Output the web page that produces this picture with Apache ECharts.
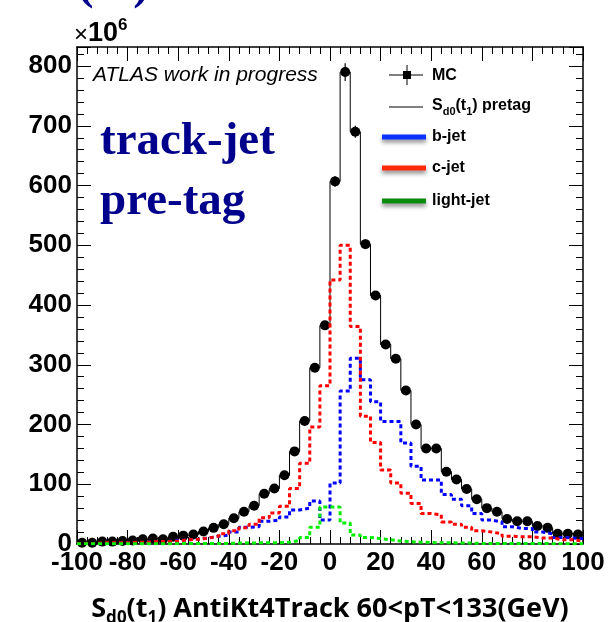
<!DOCTYPE html>
<html><head><meta charset="utf-8">
<script src="https://cdn.jsdelivr.net/npm/echarts@6/dist/echarts.min.js"></script>
<style>html,body{margin:0;padding:0;background:#fff}#c{width:610px;height:622px}</style>
</head><body><div id="c"></div>
<script>
// ---- data ----
const binCenters = [-98,-94,-90,-86,-82,-78,-74,-70,-66,-62,-58,-54,-50,-46,-42,-38,-34,-30,-26,-22,-18,-14,-10,-6,-2,
                    2,6,10,14,18,22,26,30,34,38,42,46,50,54,58,62,66,70,74,78,82,86,90,94,98];
const binWidth = 4;
const mcValues = [2,2,4,4,5,6,8,9,8,12,14,16,21,27,33,43,54,64,84,93,115,155,206,295,366,
                  607,790,690,502,416,334,310,257,200,160,160,121,108,92,75,60,54,42,38,38,30,27,17,17,16];
const mcErrors = [1,1,1,1,1,1,1,1,1,1,1,1,1.5,1.5,2,2,2,2,3,3,3,4,5,6,7,
                  9,15,10,8,7,6,6,5,5,4,4,3,3,3,3,2,2,2,2,2,2,2,1.5,1.5,1.5];
const bJet = [1,1,1,2,2,2,3,4,4,6,7,8,10,13,15,20,28,29,38,40,45,57,60,72,40,
              102,256,311,275,238,205,205,169,130,107,107,83,75,64,51,40,37,29,26,26,20,17,11,10,9];
const cJet = [1,1,2,2,2,3,3,4,4,5,7,8,10,13,17,22,27,33,44,52,63,93,135,196,265,
              442,500,364,214,170,124,102,85,68,51,49,37,33,28,22,20,17,13,12,12,10,10,7,7,5];
const lightJet = [0.5,0.5,0.5,0.5,0.5,0.5,0.5,0.5,0.5,0.5,1,1,1,1,1,1.5,1.5,2,2,2,3,6,11,28,62,
                  62,35,15,11,9,7,5,4,3,2.5,2,2,1.5,1.5,1,1,1,1,1,1,1,0.5,0.5,0.5,0.5];
const xRange = [-100, 100];
const yRange = [0, 832];
const legendLabels = ['MC', 'pretag', 'b-jet', 'c-jet', 'light-jet'];

function stepData(vals) {
  const d = binCenters.map((c, i) => [c - binWidth / 2, vals[i]]);
  d.push([binCenters[binCenters.length - 1] + binWidth / 2, vals[vals.length - 1]]);
  return d;
}

const F = '"Liberation Sans", Arial, sans-serif';
const chart = echarts.init(document.getElementById('c'), null, {renderer: 'canvas'});

const tickCommon = {
  axisLine: {show: true, onZero: false, lineStyle: {color: '#000', width: 1.5}},
  axisTick: {show: true, inside: true, length: 14, lineStyle: {color: '#000', width: 1}},
  minorTick: {show: true, splitNumber: 5, length: 7, lineStyle: {color: '#000', width: 1}},
  splitLine: {show: false}
};

const dashed = (color) => ({color: color, width: 3, type: [4, 3], opacity: 1});

chart.setOption({
  animation: false,
  backgroundColor: '#fff',
  grid: {left: 77, right: 27, top: 47, bottom: 78, containLabel: false, outerBoundsMode: 'none'},
  xAxis: [
    Object.assign({
      type: 'value', min: xRange[0], max: xRange[1], interval: 20, position: 'bottom',
      axisLabel: {show: true, color: '#000', fontFamily: F, fontWeight: 'bold', fontSize: 26, margin: 6},
      name: '{m|S}{s|d0}{m|(t}{s|1}{m|) AntiKt4Track 60<pT<133(GeV)}',
      nameLocation: 'middle', nameGap: 47,
      nameTextStyle: {
        rich: {
          m: {fontFamily: '"Open Sans", sans-serif', fontWeight: 'bold', fontSize: 27, color: '#000', lineHeight: 36, verticalAlign: 'middle'},
          s: {fontFamily: '"Open Sans", sans-serif', fontWeight: 'bold', fontSize: 17, color: '#000', lineHeight: 36, verticalAlign: 'bottom'}
        }
      }
    }, tickCommon),
    Object.assign({
      type: 'value', min: xRange[0], max: xRange[1], interval: 20, position: 'top',
      axisLabel: {show: false}
    }, tickCommon)
  ],
  yAxis: [
    Object.assign({
      type: 'value', min: yRange[0], max: yRange[1], interval: 100, position: 'left',
      axisLabel: {show: true, color: '#000', fontFamily: F, fontWeight: 'bold', fontSize: 26, margin: 5, showMaxLabel: false}
    }, tickCommon),
    Object.assign({
      type: 'value', min: yRange[0], max: yRange[1], interval: 100, position: 'right',
      axisLabel: {show: false}
    }, tickCommon)
  ],
  series: [
    {type: 'line', name: 'pretag', data: stepData(mcValues), step: 'end', symbol: 'none',
     lineStyle: {color: '#000', width: 1, opacity: 1}, z: 2},
    {type: 'custom', name: 'MC err', data: binCenters.map((c, i) => [c, mcValues[i], mcErrors[i]]),
     encode: {x: 0, y: 1}, z: 3,
     renderItem: function (params, api) {
       const x = api.value(0), v = api.value(1), e = api.value(2);
       const p1 = api.coord([x, v - e]), p2 = api.coord([x, v + e]);
       return {type: 'line', shape: {x1: p1[0], y1: p1[1], x2: p2[0], y2: p2[1]},
               style: {stroke: '#000', lineWidth: 1.2}};
     }},
    {type: 'scatter', name: 'MC', data: binCenters.map((c, i) => [c, mcValues[i]]),
     symbol: 'circle', symbolSize: 10, itemStyle: {color: '#000', opacity: 1, borderWidth: 0}, z: 4},
    {type: 'line', name: 'b-jet', data: stepData(bJet), step: 'end', symbol: 'none', lineStyle: dashed('#0000ff'), z: 5},
    {type: 'line', name: 'c-jet', data: stepData(cJet), step: 'end', symbol: 'none', lineStyle: dashed('#ff0000'), z: 6},
    {type: 'line', name: 'light-jet', data: stepData(lightJet), step: 'end', symbol: 'none', lineStyle: dashed('#00ee00'), z: 7}
  ],
  graphic: [
    // cut-off navy text at top-left of the slide
    {type: 'text', x: 0, y: 10, style: {text: 'Sd0(t1)', font: 'bold 48px "Liberation Serif", serif', fill: '#00008c', verticalAlign: 'bottom'}},
    // x10^6
    {type: 'text', x: 74, y: 32, style: {
      text: '{x|×}{n|10}{e|6}', verticalAlign: 'middle',
      rich: {
        x: {fontFamily: F, fontSize: 24, fill: '#000', lineHeight: 30, verticalAlign: 'bottom'},
        n: {fontFamily: F, fontWeight: 'bold', fontSize: 27, fill: '#000', lineHeight: 30, verticalAlign: 'bottom'},
        e: {fontFamily: F, fontWeight: 'bold', fontSize: 17, fill: '#000', lineHeight: 30, verticalAlign: 'top'}
      }}},
    {type: 'text', x: 93, y: 75, style: {text: 'ATLAS work in progress', font: 'italic 21px "Liberation Sans", sans-serif', fill: '#000', verticalAlign: 'middle'}},
    {type: 'text', x: 100, y: 142, style: {text: 'track-jet', font: 'bold 47px "Liberation Serif", serif', fill: '#00008c', verticalAlign: 'middle'}},
    {type: 'text', x: 100, y: 202, style: {text: 'pre-tag', font: 'bold 47px "Liberation Serif", serif', fill: '#00008c', verticalAlign: 'middle'}},
    // legend
    {type: 'line', shape: {x1: 389, y1: 75, x2: 423, y2: 75}, style: {stroke: '#000', lineWidth: 1}},
    {type: 'line', shape: {x1: 407, y1: 65, x2: 407, y2: 85}, style: {stroke: '#000', lineWidth: 1}},
    {type: 'rect', shape: {x: 403, y: 71, width: 8, height: 8}, style: {fill: '#000'}},
    {type: 'text', x: 432, y: 76, style: {text: legendLabels[0], font: 'bold 16px ' + F, fill: '#000', verticalAlign: 'middle'}},
    {type: 'line', shape: {x1: 389, y1: 107, x2: 423, y2: 107}, style: {stroke: '#000', lineWidth: 1}},
    {type: 'text', x: 432, y: 106, style: {
      text: '{m|S}{s|d0}{m|(t}{s|1}{m|) ' + legendLabels[1] + '}', verticalAlign: 'middle',
      rich: {
        m: {fontFamily: F, fontWeight: 'bold', fontSize: 16, fill: '#000', lineHeight: 22, verticalAlign: 'middle'},
        s: {fontFamily: F, fontWeight: 'bold', fontSize: 11, fill: '#000', lineHeight: 22, verticalAlign: 'bottom'}
      }}},
    {type: 'line', shape: {x1: 382, y1: 137, x2: 426, y2: 137}, style: {stroke: '#0a32ff', lineWidth: 5, shadowBlur: 4, shadowOffsetY: 3, shadowColor: 'rgba(0,0,0,0.45)'}},
    {type: 'text', x: 432, y: 137, style: {text: legendLabels[2], font: 'bold 16px ' + F, fill: '#000', verticalAlign: 'middle'}},
    {type: 'line', shape: {x1: 382, y1: 168, x2: 426, y2: 168}, style: {stroke: '#ff2a0a', lineWidth: 5, shadowBlur: 4, shadowOffsetY: 3, shadowColor: 'rgba(0,0,0,0.45)'}},
    {type: 'text', x: 432, y: 168, style: {text: legendLabels[3], font: 'bold 16px ' + F, fill: '#000', verticalAlign: 'middle'}},
    {type: 'line', shape: {x1: 382, y1: 201, x2: 426, y2: 201}, style: {stroke: '#0a8a0a', lineWidth: 5, shadowBlur: 4, shadowOffsetY: 3, shadowColor: 'rgba(0,0,0,0.45)'}},
    {type: 'text', x: 432, y: 201, style: {text: legendLabels[4], font: 'bold 16px ' + F, fill: '#000', verticalAlign: 'middle'}}
  ]
});
</script></body></html>
